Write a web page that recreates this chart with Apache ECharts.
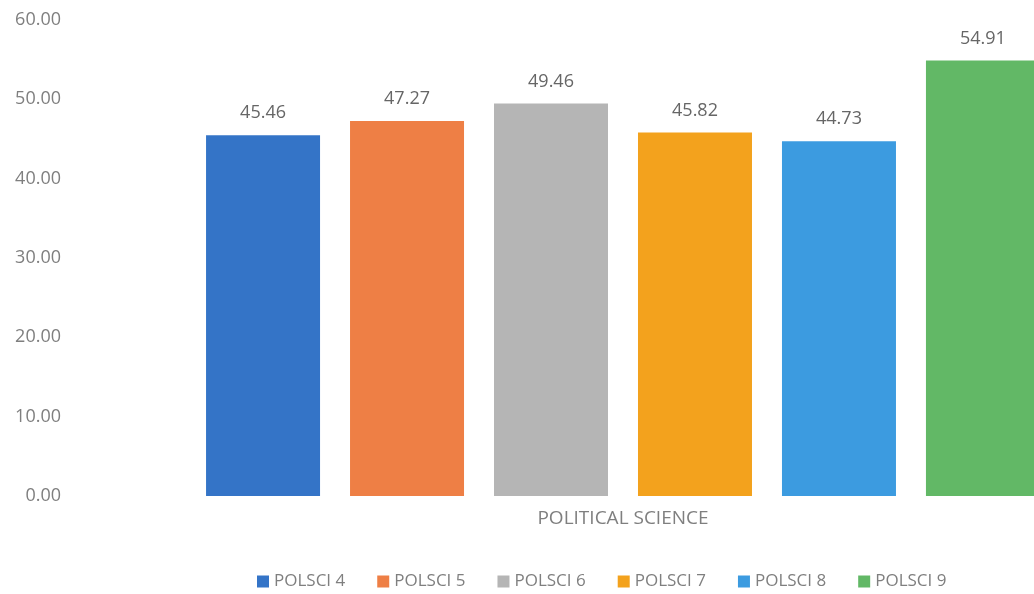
<!DOCTYPE html>
<html><head><meta charset="utf-8">
<script src="https://cdn.jsdelivr.net/npm/echarts@6/dist/echarts.min.js"></script>
<style>html,body{margin:0;padding:0;background:#fff}#c{width:1034px;height:594px}</style>
</head><body><div id="c"></div>
<script>
const categories = ['POLITICAL SCIENCE'];
const seriesNames = ['POLSCI 4','POLSCI 5','POLSCI 6','POLSCI 7','POLSCI 8','POLSCI 9'];
const seriesValues = [45.46, 47.27, 49.46, 45.82, 44.73, 54.91];
const colors = ['#3474C7','#EE7F45','#B5B5B5','#F3A21D','#3C9BE0','#62B866'];
const yTicks = {min: 0, max: 60, interval: 10};

const font = '"Open Sans", "Liberation Sans", sans-serif';
const chart = echarts.init(document.getElementById('c'));
chart.setOption({
  animation: false,
  color: colors,
  grid: {left: 212, top: 20, right: 0, height: 476, containLabel: false},
  legend: {
    top: 568, left: 252, itemWidth: 12, itemHeight: 12, itemGap: 32,
    icon: 'rect',
    textStyle: {color: '#7f7f7f', fontSize: 17, fontFamily: font},
    data: seriesNames
  },
  xAxis: {
    type: 'category', data: categories,
    axisLine: {show: false}, axisTick: {show: false},
    axisLabel: {color: '#7f7f7f', fontSize: 19, fontFamily: font, margin: 13}
  },
  yAxis: {
    type: 'value', min: yTicks.min, max: yTicks.max, interval: yTicks.interval,
    splitLine: {show: false}, axisLine: {show: false}, axisTick: {show: false},
    axisLabel: {color: '#7f7f7f', fontSize: 18, fontFamily: font, margin: 151,
      formatter: v => v.toFixed(2)}
  },
  series: seriesNames.map((n, i) => ({
    name: n, type: 'bar', data: [seriesValues[i]], clip: false,
    barWidth: 114, barGap: '26.3%',
    label: {show: true, position: 'top', distance: 13, color: '#666666', fontSize: 18, fontFamily: font,
      formatter: p => p.value.toFixed(2)}
  }))
});
</script></body></html>
